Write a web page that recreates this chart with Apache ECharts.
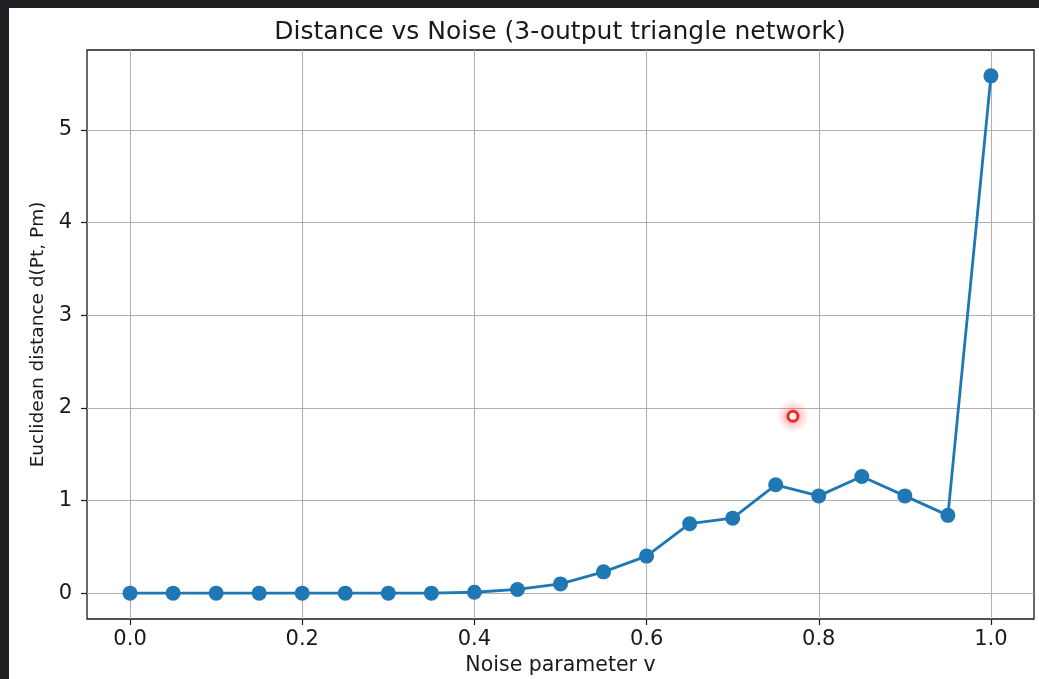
<!DOCTYPE html>
<html>
<head>
<meta charset="utf-8">
<script src="https://cdn.jsdelivr.net/npm/echarts@6/dist/echarts.min.js"></script>
<style>
html,body{margin:0;padding:0;width:1039px;height:679px;background:#202124;overflow:hidden;}
#chart{position:absolute;left:9px;top:8px;width:1030px;height:671px;background:#ffffff;}
</style>
</head>
<body>
<div id="chart"></div>
<script>
// Data
const noiseV = [0.0,0.05,0.10,0.15,0.20,0.25,0.30,0.35,0.40,0.45,0.50,0.55,0.60,0.65,0.70,0.75,0.80,0.85,0.90,0.95,1.0];
const distance = [0,0,0,0,0,0,0,0,0.01,0.04,0.10,0.23,0.40,0.75,0.81,1.17,1.05,1.26,1.05,0.84,5.585];
const xTicks = [0.0,0.2,0.4,0.6,0.8,1.0];
const yTicks = [0,1,2,3,4,5];
const cursorPoint = [[0.77,1.91]];

const FONT = '"DejaVu Sans", sans-serif';
const chart = echarts.init(document.getElementById('chart'), null, {renderer:'canvas'});
const seriesData = noiseV.map((x,i)=>[x,distance[i]]);
chart.setOption({
  animation:false,
  textStyle:{fontFamily:FONT},
  title:{
    text:'Distance vs Noise (3-output triangle network)',
    left:546, top:7, textAlign:'center',
    textStyle:{fontFamily:FONT,fontSize:25,fontWeight:'normal',color:'#1a1a1a'}
  },
  grid:{left:78,top:42,right:5,bottom:60,outerBoundsMode:'none',containLabel:false,show:true,borderColor:'#1a1a1a',borderWidth:1.3,backgroundColor:'#ffffff'},
  xAxis:{
    type:'value',min:-0.05,max:1.05,
    name:'Noise parameter v',nameLocation:'middle',nameGap:35,
    nameTextStyle:{fontFamily:FONT,fontSize:20.5,color:'#1a1a1a'},
    axisLine:{show:false,onZero:false},
    axisTick:{show:true,length:6,inside:false,customValues:xTicks,lineStyle:{color:'#1a1a1a',width:1.2}},
    axisLabel:{customValues:xTicks,margin:10,fontFamily:FONT,fontSize:21,color:'#1a1a1a',formatter:v=>v.toFixed(1)},
    splitLine:{show:true,lineStyle:{color:'#b0b0b0',width:1.1}}
  },
  yAxis:{
    type:'value',min:-0.279,max:5.864,
    name:'Euclidean distance d(Pt, Pm)',nameLocation:'middle',nameGap:38,
    nameTextStyle:{fontFamily:FONT,fontSize:18.5,color:'#1a1a1a'},
    axisLine:{show:false,onZero:false},
    axisTick:{show:true,length:6,inside:false,customValues:yTicks,lineStyle:{color:'#1a1a1a',width:1.2}},
    axisLabel:{customValues:yTicks,margin:15,fontFamily:FONT,fontSize:21,color:'#1a1a1a',formatter:v=>String(Math.round(v))},
    splitLine:{show:true,lineStyle:{color:'#b0b0b0',width:1.1}}
  },
  series:[
    {
      type:'line',data:seriesData,symbol:'circle',symbolSize:15,
      lineStyle:{color:'#1f77b4',width:2.8},
      itemStyle:{color:'#1f77b4'},
      z:3
    },
    {
      type:'scatter',data:cursorPoint,symbol:'circle',symbolSize:34,silent:true,
      itemStyle:{color:{type:'radial',x:0.5,y:0.5,r:0.5,colorStops:[
        {offset:0,color:'rgba(255,40,40,0.55)'},
        {offset:0.45,color:'rgba(255,60,60,0.35)'},
        {offset:1,color:'rgba(255,120,120,0)'}]}},
      z:4
    },
    {
      type:'scatter',data:cursorPoint,symbol:'circle',symbolSize:10,
      itemStyle:{color:'#ffffff',borderColor:'#e60000',borderWidth:3},
      z:5
    }
  ]
});
</script>
</body>
</html>
